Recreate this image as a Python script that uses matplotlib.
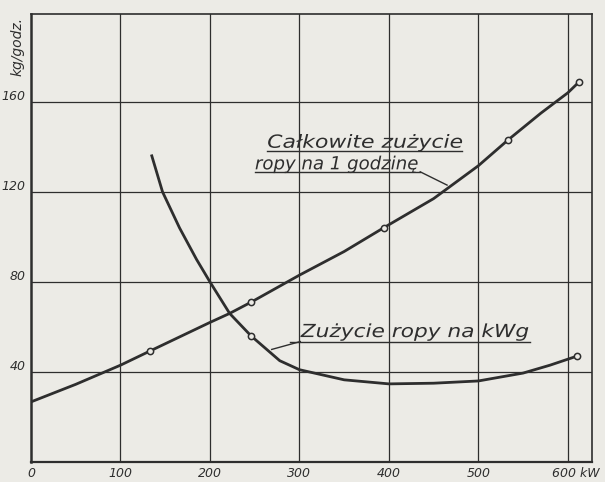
import matplotlib
matplotlib.use("Agg")
import matplotlib.pyplot as plt
from matplotlib.textpath import TextPath
from matplotlib.patches import PathPatch
from matplotlib.font_manager import FontProperties
from matplotlib.transforms import Affine2D

# Power output (kW) and oil consumption readings
total_kw = [0, 50, 100, 133, 200, 222, 246, 300, 350, 394, 450, 500, 533, 570, 600, 613]
total_kg = [26.7, 34.5, 43, 49.3, 62, 66, 71, 83, 93.5, 104, 117, 131.6, 143, 155, 164, 169]
total_mark_kw = [133, 246, 394, 533, 613]
total_mark_kg = [49.3, 71, 104, 143, 169]

spec_kw = [135, 147, 166, 185, 200, 222, 246, 278, 300, 350, 400, 450, 500, 550, 580, 610]
spec_kg = [136, 120, 104, 90, 80, 66, 56, 45, 41, 36.5, 34.7, 35, 36, 39.5, 43, 47]
spec_mark_kw = [246, 610]
spec_mark_kg = [56, 47]

x_ticks = [0, 100, 200, 300, 400, 500, 600]
x_labels = ["0", "100", "200", "300", "400", "500", "600 kW"]
y_ticks = [40, 80, 120, 160]
y_labels = ["40", "80", "120", "160"]

paper = "#ecebe6"
ink = "#2e2e2e"

W, H, DPI = 605, 482, 100
X0, X1, Y0, Y1 = 31, 592, 462, 14
XMAX, YMAX = 627, 199

fig = plt.figure(figsize=(W / DPI, H / DPI), dpi=DPI, facecolor=paper)
ax = fig.add_axes([X0 / W, 1 - Y0 / H, (X1 - X0) / W, (Y0 - Y1) / H])
ax.set_facecolor(paper)
ax.set_xlim(0, XMAX)
ax.set_ylim(0, YMAX)

for v in [100, 200, 300, 400, 500, 600]:
    ax.axvline(v, color=ink, lw=0.9, zorder=1)
for v in y_ticks:
    ax.axhline(v, color=ink, lw=0.9, zorder=1)
for s in ax.spines.values():
    s.set_color(ink)
    s.set_linewidth(1.2)
ax.spines["left"].set_linewidth(1.8)
ax.spines["bottom"].set_linewidth(1.6)

ax.plot(total_kw, total_kg, color=ink, lw=2.0, zorder=3)
ax.plot(spec_kw, spec_kg, color=ink, lw=2.0, zorder=3)
ax.plot(total_mark_kw, total_mark_kg, "o", ms=4.5, mfc=paper, mec=ink, mew=1.1, zorder=4)
ax.plot(spec_mark_kw, spec_mark_kg, "o", ms=4.5, mfc=paper, mec=ink, mew=1.1, zorder=4)

ax.set_xticks([])
ax.set_yticks([])

tfont = dict(fontsize=9, fontstyle="italic", color=ink, family="DejaVu Sans")
for v, lab in zip(x_ticks[:-1], x_labels[:-1]):
    ax.text(v, -2, lab, ha="center", va="top", **tfont)
ax.text(582, -2, x_labels[-1], ha="left", va="top", **tfont)
for v, lab in zip(y_ticks, y_labels):
    ax.text(-6, v + 2.5, lab, ha="right", va="center", **tfont)
fig.text(18 / W, 1 - 47 / H, "kg/godz.", rotation=90, ha="center", va="center",
         fontsize=10, fontstyle="italic", color=ink, family="DejaVu Sans")

# Wide hand-lettered captions: glyph outlines stretched horizontally to a set width
px_per_unit_x = (X1 - X0) / XMAX
px_per_unit_y = (Y0 - Y1) / YMAX
px_per_pt = DPI / 72.0
lettering = FontProperties(family="DejaVu Sans", style="italic")


def lettered(x, y, s, size_pt, width_px):
    path = TextPath((0, 0), s, size=size_pt, prop=lettering)
    ext = path.get_extents()
    stretch = width_px / (ext.width * px_per_pt)
    tr = (Affine2D()
          .translate(-ext.x0, 0)
          .scale(stretch * px_per_pt / px_per_unit_x, px_per_pt / px_per_unit_y)
          .translate(x, y))
    ax.add_patch(PathPatch(tr.transform_path(path), facecolor=ink, edgecolor="none",
                           zorder=5, clip_on=False))


lettered(265, 139.6, "Całkowite zużycie", 13, 194)
ax.plot([264, 482], [138.3, 138.3], color=ink, lw=1.0)
lettered(251, 130.0, "ropy na 1 godzinę", 13, 162)
ax.plot([250, 435], [128.9, 128.9], color=ink, lw=1.0)
ax.plot([435, 465], [128.9, 123], color=ink, lw=1.0)

lettered(301, 55.5, "Zużycie ropy na kWg", 13, 228)
ax.plot([290, 558], [53.5, 53.5], color=ink, lw=1.0)
ax.plot([301, 269], [53.5, 50], color=ink, lw=1.0)

fig.savefig("out.png", dpi=DPI, facecolor=paper)
